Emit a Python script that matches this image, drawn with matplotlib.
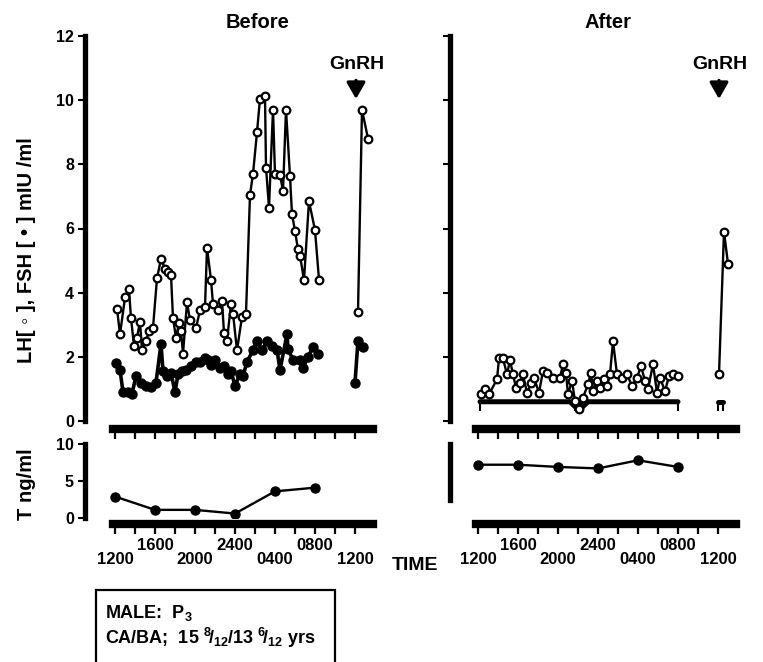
import matplotlib

matplotlib.use("Agg")

import matplotlib.pyplot as plt
from matplotlib.patches import Rectangle

W, H, DPI = 763, 662, 100

# Sampling times in hours after 12:00 noon
LH_BEFORE_H = [0.2, 0.5, 1.0, 1.4, 1.6, 1.9, 2.2, 2.5, 2.7, 3.1, 3.4, 3.8, 4.2, 4.6, 5.0,
               5.3, 5.6, 5.8, 6.1, 6.4, 6.6, 6.8, 7.2, 7.5, 8.1, 8.5, 9.0, 9.2, 9.6, 9.8,
               10.3, 10.7, 10.9, 11.2, 11.6, 11.8, 12.2, 12.7, 13.1, 13.5, 13.8, 14.2, 14.5,
               15.0, 15.1, 15.4, 15.8, 16.0, 16.5, 16.8, 17.1, 17.5, 17.7, 18.0, 18.3, 18.5,
               18.9, 19.4, 20.0, 20.4]
LH_BEFORE = [3.5, 2.7, 3.85, 4.1, 3.2, 2.35, 2.6, 3.1, 2.2, 2.5, 2.8, 2.9, 4.45, 5.05, 4.75,
             4.65, 4.55, 3.2, 2.6, 3.05, 2.8, 2.1, 3.7, 3.15, 2.9, 3.45, 3.55, 5.4, 4.4, 3.65,
             3.45, 3.75, 2.75, 2.5, 3.65, 3.35, 2.2, 3.25, 3.35, 7.05, 7.7, 9.0, 10.05,
             10.12, 7.9, 6.65, 9.7, 7.7, 7.68, 7.17, 9.7, 7.63, 6.45, 5.92, 5.35, 5.15,
             4.4, 6.85, 5.95, 4.4]

FSH_BEFORE_H = [0.1, 0.5, 0.8, 1.3, 1.7, 2.1, 2.6, 3.1, 3.6, 4.1, 4.6, 4.8, 5.2, 5.6, 6.0,
                6.3, 6.7, 7.1, 7.6, 8.1, 8.5, 9.0, 9.3, 9.6, 10.0, 10.5, 10.9, 11.3, 11.6,
                12.0, 12.5, 12.8, 13.2, 13.8, 14.2, 14.7, 15.2, 15.7, 16.2, 16.5, 17.2, 17.3,
                17.8, 18.5, 18.8, 19.3, 19.8, 20.3]
FSH_BEFORE = [1.8, 1.6, 0.9, 0.9, 0.85, 1.4, 1.2, 1.1, 1.05, 1.2, 2.4, 1.55, 1.4, 1.5, 0.9,
              1.45, 1.55, 1.6, 1.7, 1.85, 1.85, 1.95, 1.9, 1.75, 1.9, 1.65, 1.7, 1.45, 1.55,
              1.1, 1.45, 1.4, 1.85, 2.2, 2.5, 2.2, 2.5, 2.35, 2.2, 1.6, 2.7, 2.25,
              1.9, 1.9, 1.65, 2.0, 2.3, 2.1]

LH_AFTER_H = [0.3, 0.7, 1.1, 1.9, 2.1, 2.5, 2.9, 3.2, 3.5, 3.8, 4.2, 4.5, 4.9, 5.3, 5.6,
              6.1, 6.5, 6.9, 7.5, 8.2, 8.5, 8.8, 9.0, 9.4, 9.7, 10.1, 10.5, 11.0, 11.3, 11.5,
              11.9, 12.2, 12.6, 12.9, 13.2, 13.5, 13.9, 14.4, 14.9, 15.4, 15.9, 16.3, 16.7,
              17.0, 17.5, 17.9, 18.2, 18.7, 19.1, 19.5, 20.0]
LH_AFTER = [0.83, 0.99, 0.83, 1.3, 1.95, 1.95, 1.45, 1.9, 1.45, 1.04, 1.19, 1.45, 0.88, 1.19,
            1.35, 0.88, 1.56, 1.5, 1.35, 1.35, 1.77, 1.5, 0.83, 1.25, 0.62, 0.36, 0.73, 1.14,
            1.5, 0.93, 1.25, 1.04, 1.3, 1.09, 1.45, 2.49, 1.45, 1.35, 1.45, 1.09, 1.35, 1.71,
            1.25, 0.99, 1.77, 0.88, 1.35, 0.93, 1.4, 1.45, 1.4]

# FSH after treatment sits at the assay limit; legs mark undetectable samples
FSH_AFTER_H = [0.2, 9.2, 9.7, 10.1, 10.5, 11.0, 20.0]
FSH_AFTER = [0.6, 0.6, 0.45, 0.45, 0.45, 0.6, 0.6]
FSH_AFTER_UNDET_H = [0.2, 9.7, 10.1, 10.5, 20.0]

# GnRH test the next day at 12:00
GNRH_LH_BEFORE_H = [24.3, 24.7, 25.3]
GNRH_LH_BEFORE = [3.4, 9.7, 8.8]
GNRH_FSH_BEFORE_H = [24.0, 24.3, 24.8]
GNRH_FSH_BEFORE = [1.2, 2.5, 2.3]
GNRH_LH_AFTER_H = [24.1, 24.6, 25.0]
GNRH_LH_AFTER = [1.45, 5.9, 4.9]
GNRH_FSH_AFTER_H = [24.0, 24.5]
GNRH_FSH_AFTER = [0.6, 0.6]

T_H = [0, 4, 8, 12, 16, 20]
T_BEFORE = [2.9, 1.1, 1.1, 0.6, 3.6, 4.1]
T_AFTER = [7.2, 7.2, 6.9, 6.7, 7.8, 6.9]

TIME_TICKS = [0, 4, 8, 12, 16, 20, 24]
TIME_LABELS = ["\n1200", "1600", "\n2000", "2400", "\n0400", "0800", "\n1200"]

plt.rcParams.update({
    "font.family": ["Liberation Sans", "DejaVu Sans"],
    "font.weight": "bold",
    "mathtext.fontset": "custom",
    "mathtext.rm": "Liberation Sans:bold",
    "mathtext.it": "Liberation Sans:bold",
    "mathtext.bf": "Liberation Sans:bold",
})


def px_box(left, top, right, bottom):
    return [left / W, 1 - bottom / H, (right - left) / W, (bottom - top) / H]


def fx(x):
    return x / W


def fy(y):
    return 1 - y / H


def style_axes(ax, xlim, ylim, ybounds, yticks, ylabels, bar_offset, xlabels):
    ax.set_xlim(*xlim)
    ax.set_ylim(*ylim)
    ax.spines["top"].set_visible(False)
    ax.spines["right"].set_visible(False)
    ax.spines["left"].set_bounds(*ybounds)
    ax.spines["left"].set_linewidth(3.8)
    ax.spines["bottom"].set_bounds(-0.2, 25.8)
    ax.spines["bottom"].set_linewidth(6.0)
    ax.spines["bottom"].set_position(("outward", bar_offset))
    ax.set_xticks(TIME_TICKS)
    ax.set_xticks([2, 6, 10, 14, 18, 22], minor=True)
    ax.tick_params(axis="x", which="both", direction="out", length=7, width=1.6, pad=3,
                   labelsize=12)
    if xlabels:
        ax.set_xticklabels(TIME_LABELS, linespacing=0.95)
    else:
        ax.set_xticklabels([])
    ax.set_yticks(yticks)
    ax.tick_params(axis="y", direction="out", length=5, width=1.5, pad=3, labelsize=11.5)
    if not ylabels:
        ax.set_yticklabels([])
    ax.patch.set_visible(False)


fig = plt.figure(figsize=(W / DPI, H / DPI), dpi=DPI)

ax_hb = fig.add_axes(px_box(85, 36, 380, 421))
ax_ha = fig.add_axes(px_box(450, 36, 745, 421))
ax_tb = fig.add_axes(px_box(85, 444, 380, 518))
ax_ta = fig.add_axes(px_box(450, 444, 745, 518))

style_axes(ax_hb, (-3.0, 26.5), (0, 12), (0, 12), range(0, 13, 2), True, 5.4, False)
style_axes(ax_ha, (-2.8, 26.7), (0, 12), (0, 12), range(0, 13, 2), False, 5.4, False)
style_axes(ax_tb, (-3.0, 26.5), (0, 10), (0, 10), [0, 5, 10], True, 4.3, True)
style_axes(ax_ta, (-2.8, 26.7), (0, 10), (2.5, 10), [], False, 4.3, True)
ax_ta.tick_params(axis="y", length=0)

lh_style = dict(color="black", lw=1.7, marker="o", ms=5.5, mfc="white", mec="black", mew=1.6)
fsh_style = dict(color="black", lw=2.6, marker="o", ms=6.5, mfc="black", mec="black")

# before treatment
ax_hb.plot(FSH_BEFORE_H, FSH_BEFORE, **fsh_style)
ax_hb.plot(LH_BEFORE_H, LH_BEFORE, **lh_style)
ax_hb.plot(GNRH_FSH_BEFORE_H, GNRH_FSH_BEFORE, **fsh_style)
ax_hb.plot(GNRH_LH_BEFORE_H, GNRH_LH_BEFORE, **lh_style)

# after treatment
ax_ha.plot(FSH_AFTER_H, FSH_AFTER, color="black", lw=3.6, solid_capstyle="round")
ax_ha.vlines(FSH_AFTER_UNDET_H, 0.3, 0.6, color="black", lw=1.5)
ax_ha.plot(LH_AFTER_H, LH_AFTER, **lh_style)
ax_ha.plot(GNRH_FSH_AFTER_H, GNRH_FSH_AFTER, color="black", lw=3.6, solid_capstyle="round")
ax_ha.vlines(GNRH_FSH_AFTER_H, 0.3, 0.6, color="black", lw=1.5)
ax_ha.plot(GNRH_LH_AFTER_H, GNRH_LH_AFTER, **lh_style)

for ax in (ax_hb, ax_ha):
    ax.text(24.2, 11.1, "GnRH", ha="center", va="center", fontsize=14)
    ax.annotate("", xy=(24.1, 9.95), xytext=(24.1, 10.7),
                arrowprops=dict(arrowstyle="-|>,head_width=0.4,head_length=0.7",
                                lw=2.4, color="black", mutation_scale=14))

t_style = dict(color="black", lw=1.7, marker="o", ms=6.5, mfc="black")
ax_tb.plot(T_H, T_BEFORE, **t_style)
ax_ta.plot(T_H, T_AFTER, **t_style)

fig.text(fx(258), fy(22), "Before", ha="center", va="center", fontsize=14.5)
fig.text(fx(608), fy(22), "After", ha="center", va="center", fontsize=14.5)
fig.text(fx(27), fy(250), "LH[ \u25e6 ], FSH [ \u2022 ] mIU /ml", rotation=90,
         ha="center", va="center", fontsize=14.5)
fig.text(fx(27), fy(484), "T ng/ml", rotation=90, ha="center", va="center", fontsize=14.5)
fig.text(fx(415), fy(566), "TIME", ha="center", va="center", fontsize=14)

# patient info box
fig.patches.append(Rectangle((fx(96), fy(700)), (335 - 96) / W, 110 / H,
                             transform=fig.transFigure, fill=False, lw=1.6, ec="black"))
fig.text(fx(105), fy(613), r"MALE:  P$_3$", ha="left", va="center", fontsize=13)
fig.text(fx(105), fy(638), r"CA/BA;  15 $^{8}\!/_{12}$/13 $^{6}\!/_{12}$ yrs",
         ha="left", va="center", fontsize=13)

fig.savefig("out.png", dpi=DPI)
